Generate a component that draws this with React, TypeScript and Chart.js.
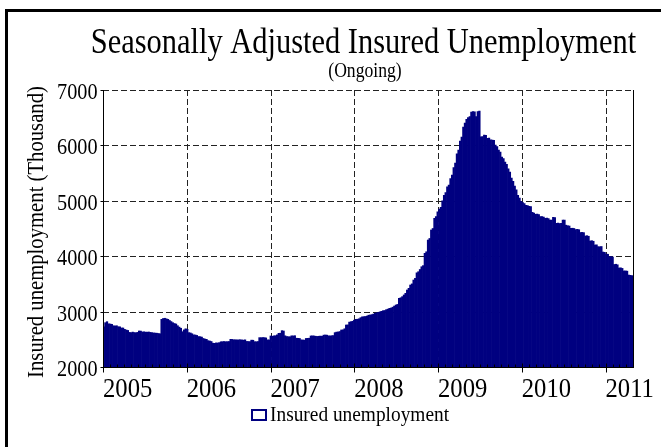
import React, { useEffect, useRef } from "react";
import { Chart, registerables } from "chart.js";

Chart.register(...registerables);

// ---- Data (weekly, seasonally adjusted insured unemployment, thousands) ----
const START_YEAR = 2005;
const WEEK_IN_YEARS = 7 / 365.25;

const weeks2005 = [
  2727, 2800, 2818, 2780, 2776, 2770, 2745, 2740, 2745, 2727,
  2725, 2705, 2704, 2680, 2668, 2660, 2625, 2620, 2630, 2622,
  2618, 2625, 2650, 2648, 2632, 2635, 2630, 2628, 2632, 2625,
  2620, 2615, 2612, 2610, 2605, 2600, 2860, 2875, 2880, 2870,
  2860, 2840, 2820, 2800, 2785, 2776, 2745, 2720, 2700, 2637,
  2670, 2690,
];
const weeks2006 = [
  2680, 2620, 2615, 2600, 2580, 2578, 2570, 2550, 2547, 2540,
  2515, 2505, 2500, 2475, 2469, 2460, 2430, 2427, 2435, 2433,
  2440, 2455, 2457, 2460, 2455, 2458, 2460, 2500, 2498, 2490,
  2492, 2488, 2490, 2492, 2488, 2485, 2490, 2462, 2460, 2458,
  2485, 2483, 2457, 2455, 2460, 2530, 2528, 2532, 2530, 2525,
  2490, 2488,
];
const weeks2007 = [
  2560, 2555, 2562, 2565, 2580, 2608, 2610, 2656, 2650, 2563,
  2550, 2547, 2545, 2563, 2560, 2565, 2520, 2518, 2515, 2490,
  2487, 2485, 2515, 2518, 2520, 2560, 2563, 2560, 2555, 2552,
  2555, 2558, 2555, 2575, 2578, 2575, 2563, 2560, 2565, 2568,
  2620, 2630, 2632, 2640, 2668, 2670, 2690, 2758, 2760, 2810,
  2818, 2825,
];
const weeks2008 = [
  2845, 2860, 2862, 2870, 2890, 2905, 2908, 2912, 2920, 2935,
  2939, 2945, 2955, 2970, 2980, 2985, 2995, 3005, 3016, 3020,
  3035, 3045, 3059, 3065, 3080, 3100, 3119, 3130, 3240, 3250,
  3270, 3300, 3330, 3390, 3420, 3480, 3500, 3570, 3600, 3700,
  3720, 3760, 3810, 3830, 4052, 4080, 4292, 4320, 4473, 4500,
  4684, 4713,
];
const weeks2009 = [
  4800, 4850, 4880, 5000, 5100, 5150, 5250, 5285, 5400, 5465,
  5600, 5680, 5850, 5917, 6080, 6150, 6330, 6405, 6470, 6500,
  6520, 6600, 6610, 6607, 6520, 6610, 6620, 6155, 6160, 6188,
  6180, 6128, 6130, 6100, 6097, 6090, 6007, 5980, 5917, 5880,
  5790, 5760, 5700, 5660, 5575, 5520, 5412, 5350, 5267, 5200,
  5100, 5050, 4990,
];
const weeks2010 = [
  4970, 4950, 4920, 4915, 4900, 4895, 4790, 4780, 4756, 4760,
  4750, 4713, 4715, 4705, 4684, 4690, 4680, 4653, 4650, 4700,
  4695, 4594, 4600, 4590, 4595, 4653, 4650, 4560, 4550, 4545,
  4503, 4505, 4500, 4480, 4485, 4478, 4428, 4430, 4425, 4364,
  4370, 4360, 4274, 4280, 4270, 4202, 4205, 4172, 4170, 4175,
  4075, 4070,
];
const weeks2011 = [
  4040, 4035, 3990, 3995, 3985, 3850, 3855, 3845, 3787, 3790,
  3780, 3733, 3735, 3730, 3660, 3655, 3650,
];

const insuredUnemployment = [
  ...weeks2005, ...weeks2006, ...weeks2007, ...weeks2008,
  ...weeks2009, ...weeks2010, ...weeks2011,
];

const yTickValues = [2000, 3000, 4000, 5000, 6000, 7000];
const yearTicks = [2005, 2006, 2007, 2008, 2009, 2010, 2011];
const X_MIN = 2005;
const X_MAX = 2011.34;

const titleText = "Seasonally Adjusted Insured Unemployment";
const subtitleText = "(Ongoing)";
const yAxisTitle = "Insured unemployment (Thousand)";
const seriesName = "Insured unemployment";

const NAVY = "#000080";
const FONT = '"Liberation Serif", "Times New Roman", serif';
const SQUEEZE = 0.88;

function drawText(
  ctx: CanvasRenderingContext2D,
  s: string,
  x: number,
  y: number,
  size: number,
  align: CanvasTextAlign,
  rot = 0,
  k = SQUEEZE
) {
  ctx.save();
  ctx.translate(x, y);
  if (rot) ctx.rotate(rot);
  ctx.scale(k, 1);
  ctx.font = `${size}px ${FONT}`;
  ctx.textAlign = align;
  ctx.textBaseline = "alphabetic";
  ctx.fillStyle = "#000";
  ctx.fillText(s, 0, 0);
  ctx.restore();
}

const decorPlugin = {
  id: "decor",
  beforeDraw(chart: any) {
    const ctx = chart.ctx as CanvasRenderingContext2D;
    ctx.save();
    ctx.fillStyle = "#fff";
    ctx.fillRect(0, 0, chart.width, chart.height);
    ctx.restore();
  },
  beforeDatasetsDraw(chart: any) {
    const ctx = chart.ctx as CanvasRenderingContext2D;
    const { left, right, top, bottom } = chart.chartArea;
    const xs = chart.scales.x;
    const ys = chart.scales.y;
    ctx.save();
    ctx.strokeStyle = "#222";
    ctx.lineWidth = 1;
    ctx.setLineDash([6, 3]);
    yTickValues.slice(1).forEach((v) => {
      const y = Math.round(ys.getPixelForValue(v)) + 0.5;
      ctx.beginPath();
      ctx.moveTo(left, y);
      ctx.lineTo(right, y);
      ctx.stroke();
    });
    yearTicks.slice(1).forEach((yr) => {
      const x = Math.round(xs.getPixelForValue(yr)) + 0.5;
      ctx.beginPath();
      ctx.moveTo(x, top);
      ctx.lineTo(x, bottom);
      ctx.stroke();
    });
    ctx.restore();
  },
  afterDatasetsDraw(chart: any) {
    const ctx = chart.ctx as CanvasRenderingContext2D;
    const { left, right, top, bottom } = chart.chartArea;
    const xs = chart.scales.x;
    const ys = chart.scales.y;
    const L = Math.round(left) + 0.5;
    const R = Math.round(right) - 0.5;
    const B = Math.round(bottom) + 0.5;
    ctx.save();
    ctx.strokeStyle = "#000";
    ctx.lineWidth = 1;
    ctx.setLineDash([]);
    // axes
    ctx.beginPath();
    ctx.moveTo(L, Math.round(top));
    ctx.lineTo(L, B);
    ctx.lineTo(R + 0.5, B);
    ctx.moveTo(R, Math.round(top));
    ctx.lineTo(R, B);
    ctx.stroke();
    // y ticks (outward)
    yTickValues.forEach((v) => {
      const y = Math.round(ys.getPixelForValue(v)) + 0.5;
      ctx.beginPath();
      ctx.moveTo(L - 3, y);
      ctx.lineTo(L, y);
      ctx.stroke();
    });
    // monthly minor ticks (inward) and yearly major ticks (outward)
    yearTicks.forEach((yr) => {
      for (let m = 0; m < 12; m++) {
        const val = yr + m / 12;
        if (val > X_MAX) break;
        const x = Math.round(xs.getPixelForValue(val)) + 0.5;
        ctx.beginPath();
        if (m === 0) {
          ctx.moveTo(x, B - 4);
          ctx.lineTo(x, B + 5);
        } else {
          ctx.moveTo(x, B - 3);
          ctx.lineTo(x, B);
        }
        ctx.stroke();
      }
    });
    ctx.restore();

    // tick labels
    yTickValues.forEach((v) => {
      const y = ys.getPixelForValue(v);
      drawText(ctx, String(v), L - 6, y + 9, 23, "right");
    });
    yearTicks.forEach((yr) => {
      const x = xs.getPixelForValue(yr);
      drawText(ctx, String(yr), x, 397, 28, "left");
    });

    // titles
    drawText(ctx, titleText, 363.5, 53, 35, "center", 0, 0.87);
    drawText(ctx, subtitleText, 365, 77, 21, "center", 0, 0.84);
    drawText(ctx, yAxisTitle, 43, 232, 23.5, "center", -Math.PI / 2);

    // legend
    ctx.save();
    ctx.strokeStyle = NAVY;
    ctx.lineWidth = 2;
    ctx.fillStyle = "#fff";
    ctx.fillRect(252, 410, 14, 10);
    ctx.strokeRect(252, 410, 14, 10);
    ctx.restore();
    drawText(ctx, seriesName, 270, 421, 22, "left");

    // outer frame (top and left visible)
    ctx.save();
    ctx.fillStyle = "#000";
    ctx.fillRect(5, 9, 3, chart.height);
    ctx.fillRect(5, 9, chart.width, 3);
    ctx.restore();
  },
};

export default function App() {
  const canvasRef = useRef<HTMLCanvasElement | null>(null);

  useEffect(() => {
    document.body.style.margin = "0";
    document.body.style.overflow = "hidden";
    const canvas = canvasRef.current;
    if (!canvas) return;
    const points = insuredUnemployment.map((v, i) => ({
      x: START_YEAR + (i + 0.5) * WEEK_IN_YEARS,
      y: v,
    }));
    const chart = new Chart(canvas, {
      type: "bar",
      data: {
        datasets: [
          {
            label: seriesName,
            data: points as any,
            backgroundColor: NAVY,
            borderColor: NAVY,
            borderWidth: 0,
            barPercentage: 1,
            categoryPercentage: 1,
          },
        ],
      },
      options: {
        responsive: false,
        animation: false,
        devicePixelRatio: 1,
        layout: { padding: { left: 103, right: 27, top: 90, bottom: 80 } },
        plugins: {
          legend: { display: false },
          title: { display: false },
          tooltip: { enabled: false },
        },
        scales: {
          x: { type: "linear", display: false, min: X_MIN, max: X_MAX, offset: false },
          y: { type: "linear", display: false, min: 2000, max: 7000 },
        },
      },
      plugins: [decorPlugin],
    });
    return () => chart.destroy();
  }, []);

  return (
    <div style={{ position: "absolute", left: 0, top: 0, width: 661, height: 447 }}>
      <canvas ref={canvasRef} width={661} height={447} style={{ display: "block" }} />
    </div>
  );
}
